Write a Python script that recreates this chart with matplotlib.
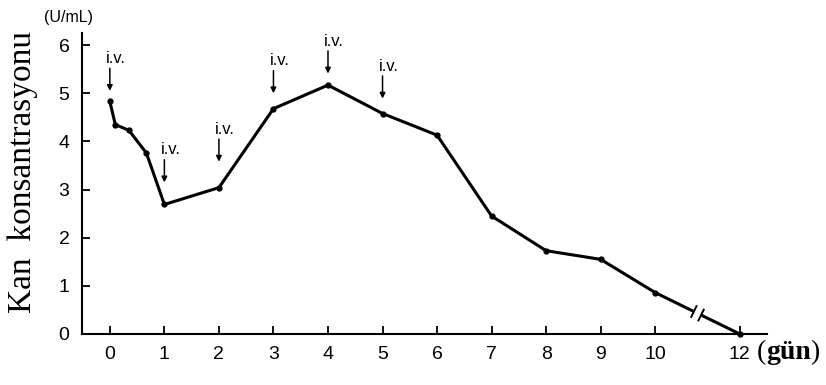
import matplotlib.pyplot as plt
import numpy as np

# data (days, blood concentration U/mL)
days = [0, 0.1, 0.35, 0.67, 1, 2, 3, 4, 5, 6, 7, 8, 9, 10, 12]
conc = [4.83, 4.35, 4.23, 3.76, 2.69, 3.04, 4.68, 5.17, 4.58, 4.13, 2.45, 1.73, 1.55, 0.86, 0.0]

# i.v. doses
iv_days = [0, 1, 2, 3, 4, 5]
iv_gap = [0.22, 0.46, 0.54, 0.32, 0.24, 0.31]  # arrow tip above curve

x_ticks = [0, 1, 2, 3, 4, 5, 6, 7, 8, 9, 10, 12]
y_ticks = [0, 1, 2, 3, 4, 5, 6]


def xmap(d):
    # axis is broken after day 10
    d = np.asarray(d, dtype=float)
    return np.where(d <= 10, d, 10 + (d - 10) * 0.775)


sans = 'Liberation Sans'
serif = 'Liberation Serif'

fig = plt.figure(figsize=(8.26, 3.85), dpi=100)
ax = fig.add_axes([0.0993, 0.1325, 0.8293, 0.7815])

xs = xmap(days)
ax.plot(xs, conc, color='black', lw=2.2, marker='o', ms=3.5, zorder=3,
        clip_on=False)

ax.set_xlim(-0.51, 12.05)
ax.set_ylim(0, 6.25)
for s in ['top', 'right']:
    ax.spines[s].set_visible(False)
for s in ['left', 'bottom']:
    ax.spines[s].set_linewidth(1.5)

ax.set_xticks(xmap(x_ticks))
ax.set_xticklabels([str(t) for t in x_ticks], fontfamily=sans, fontsize=14)
ax.set_yticks(y_ticks)
ax.set_yticklabels([str(t) for t in y_ticks], fontfamily=sans, fontsize=14)
ax.tick_params(direction='in', length=6, width=1.3)
ax.tick_params(axis='x', pad=9)
ax.tick_params(axis='y', pad=9)

# i.v. arrows
for d, g in zip(iv_days, iv_gap):
    c = np.interp(d, days, conc)
    tip = c + g
    top = tip + 0.47
    ax.annotate('', xy=(d, tip), xytext=(d, top),
                arrowprops=dict(arrowstyle='-|>', color='black', lw=1.1,
                                mutation_scale=8, shrinkA=0, shrinkB=0))
    ax.text(d - 0.07, top + 0.05, 'i.v.', fontfamily=sans, fontsize=12,
            ha='left', va='bottom')

# break marks on the line between 10 and 12
fig.canvas.draw()
p0 = ax.transData.transform((xmap(10), conc[-2]))
p1 = ax.transData.transform((xmap(12), conc[-1]))
u = (p1 - p0) / np.hypot(*(p1 - p0))
n = np.array([-u[1], u[0]])
mid = p0 + (p1 - p0) * 0.5
inv = ax.transData.inverted()
a, b = inv.transform(mid - u * 3.5), inv.transform(mid + u * 3.5)
ax.plot([a[0], b[0]], [a[1], b[1]], color='white', lw=3.5, zorder=4,
        solid_capstyle='butt')
for off in (-4, 4):
    q = mid + u * off
    e1, e2 = inv.transform(q - n * 6), inv.transform(q + n * 6)
    ax.plot([e1[0], e2[0]], [e1[1], e2[1]], color='black', lw=1.4, zorder=5)

# labels
fig.text(0.028, 0.553, 'Kan  konsantrasyonu', rotation=90, fontfamily=serif,
         fontsize=24, ha='center', va='center')
fig.text(0.083, 0.955, '(U/mL)', fontfamily=sans, fontsize=11.5,
         ha='center', va='center')
t1 = fig.text(0.916, 0.068, '(', fontfamily=serif, fontsize=20,
              ha='left', va='baseline')
t2 = ax.annotate('gün', xy=(1, 0), xycoords=t1, fontfamily=serif,
                 fontsize=20, fontweight='bold', va='bottom')
ax.annotate(')', xy=(1, 0), xycoords=t2, fontfamily=serif, fontsize=20,
            va='bottom')

fig.savefig('out.png', dpi=100)
